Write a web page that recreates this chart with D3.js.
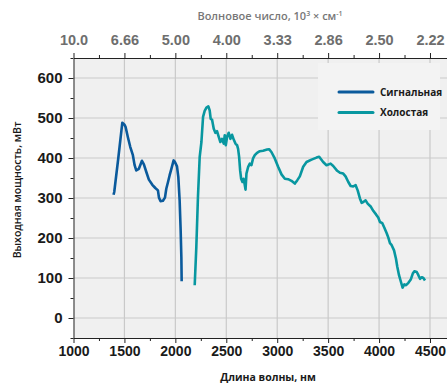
<!DOCTYPE html>
<html>
<head>
<meta charset="utf-8">
<script src="https://cdn.jsdelivr.net/npm/d3@7"></script>
<style>
body { margin: 0; background: #fff; }
svg { display: block; font-family: "Open Sans", "Noto Sans", sans-serif; }
</style>
</head>
<body>
<div id="chart"></div>
<script>
var W = 447, H = 383;

// signal (Сигнальная) wave, nm / mW
var signalWl = [1393, 1400, 1440, 1479, 1501, 1511, 1534, 1557, 1583, 1600, 1616, 1642, 1672, 1691, 1715, 1740, 1774, 1803, 1829, 1839, 1855, 1878, 1898, 1911, 1928, 1944, 1961, 1983, 1996, 2016, 2029, 2042, 2052, 2059, 2062];
var signalPw = [308, 315, 400, 488, 483, 478, 452, 428, 407, 382, 369, 373, 393, 384, 365, 346, 333, 325, 319, 301, 292, 293, 301, 323, 340, 357, 373, 394, 390, 379, 353, 294, 219, 152, 92];

// idler (Холостая) wave
var idlerWl = [2190, 2206, 2222, 2239, 2256, 2272, 2288, 2305, 2324, 2337, 2347, 2360, 2377, 2393, 2409, 2426, 2442, 2458, 2475, 2485, 2495, 2508, 2524, 2541, 2557, 2573, 2590, 2606, 2616, 2626, 2636, 2646, 2659, 2669, 2679, 2689, 2698, 2715, 2731, 2747, 2763, 2780, 2802, 2829, 2861, 2901, 2920, 2943, 2976, 3009, 3042, 3075, 3107, 3140, 3173, 3196, 3222, 3255, 3288, 3337, 3386, 3412, 3451, 3484, 3524, 3550, 3589, 3616, 3648, 3671, 3698, 3721, 3747, 3770, 3790, 3812, 3829, 3845, 3868, 3888, 3920, 3943, 3970, 3992, 4009, 4032, 4051, 4075, 4091, 4107, 4124, 4147, 4166, 4179, 4196, 4215, 4231, 4248, 4265, 4288, 4311, 4331, 4347, 4370, 4386, 4402, 4419, 4435, 4451];
var idlerPw = [82, 178, 303, 403, 440, 503, 518, 526, 529, 519, 498, 496, 473, 463, 467, 453, 440, 448, 436, 457, 432, 453, 463, 448, 458, 446, 436, 432, 423, 403, 369, 348, 340, 348, 336, 321, 361, 378, 386, 382, 399, 407, 413, 417, 418, 421, 422, 415, 399, 378, 359, 348, 347, 343, 336, 344, 354, 378, 390, 396, 401, 403, 390, 382, 386, 380, 368, 363, 361, 354, 340, 330, 329, 332, 319, 299, 288, 290, 294, 286, 278, 268, 259, 251, 240, 237, 226, 212, 201, 187, 182, 169, 148, 128, 107, 90, 76, 84, 82, 88, 96, 111, 117, 115, 107, 98, 102, 100, 94];

var xTicks = [1000, 1500, 2000, 2500, 3000, 3500, 4000, 4500];
var xMinor = [1250, 1750, 2250, 2750, 3250, 3750, 4250];
var topLabels = ["10.0", "6.66", "5.00", "4.00", "3.33", "2.86", "2.50", "2.22"];
var yTicks = [0, 100, 200, 300, 400, 500, 600];
var yMinor = [-50, 50, 150, 250, 350, 450, 550, 650];

var series = ["Сигнальная", "Холостая"];
var colors = ["#0a5a9c", "#0897a0"];

var x = d3.scaleLinear().domain([1000, 4667]).range([73.5, 447]);
var y = d3.scaleLinear().domain([-50, 650]).range([338, 58]);

var svg = d3.select("#chart").append("svg").attr("width", W).attr("height", H);

// plot background
svg.append("rect")
    .attr("x", x(1000)).attr("y", y(650))
    .attr("width", x(4667) - x(1000)).attr("height", y(-50) - y(650))
    .attr("fill", "#f0f0f0");

// grid
svg.append("g").selectAll("line").data(yTicks).enter().append("line")
    .attr("x1", x(1000)).attr("x2", W)
    .attr("y1", function(d) { return y(d); }).attr("y2", function(d) { return y(d); })
    .attr("stroke", "#c9c9c9").attr("stroke-width", 1.2);
svg.append("g").selectAll("line").data(xTicks.slice(1)).enter().append("line")
    .attr("y1", y(650)).attr("y2", y(-50))
    .attr("x1", function(d) { return x(d); }).attr("x2", function(d) { return x(d); })
    .attr("stroke", "#c9c9c9").attr("stroke-width", 1.2);

// legend box sits over the grid
svg.append("rect")
    .attr("x", 318).attr("y", 63).attr("width", 122).attr("height", 67)
    .attr("fill", "#f3f3f3");

// axes
function styleAxis(g) {
    g.select(".domain").attr("stroke", "#222");
    g.selectAll(".tick line").attr("stroke", "#222");
}

var bottomAx = svg.append("g").attr("transform", "translate(0," + y(-50) + ")")
    .call(d3.axisBottom(x).tickValues(xTicks).tickSize(5).tickPadding(3).tickSizeOuter(0).tickFormat(d3.format("d")));
bottomAx.selectAll("text").attr("font-size", "14px").attr("font-weight", "bold").attr("fill", "#1a1a1a");
styleAxis(bottomAx);
svg.append("g").attr("transform", "translate(0," + y(-50) + ")")
    .call(d3.axisBottom(x).tickValues(xMinor).tickSize(3).tickFormat("").tickSizeOuter(0))
    .call(styleAxis).select(".domain").remove();

var topAx = svg.append("g").attr("transform", "translate(0," + y(650) + ")")
    .call(d3.axisTop(x).tickValues(xTicks).tickSize(5).tickPadding(8).tickSizeOuter(0)
        .tickFormat(function(d, i) { return topLabels[i]; }));
topAx.selectAll("text").attr("font-size", "14.5px").attr("font-weight", "600").attr("fill", "#6e6e6e");
styleAxis(topAx);
svg.append("g").attr("transform", "translate(0," + y(650) + ")")
    .call(d3.axisTop(x).tickValues(xMinor).tickSize(3).tickFormat("").tickSizeOuter(0))
    .call(styleAxis).select(".domain").remove();

var leftAx = svg.append("g").attr("transform", "translate(" + x(1000) + ",0)")
    .call(d3.axisLeft(y).tickValues(yTicks).tickSize(5).tickPadding(6).tickSizeOuter(0));
leftAx.selectAll("text").attr("font-size", "15px").attr("font-weight", "bold").attr("fill", "#1a1a1a");
styleAxis(leftAx);
svg.append("g").attr("transform", "translate(" + x(1000) + ",0)")
    .call(d3.axisLeft(y).tickValues(yMinor).tickSize(3).tickFormat("").tickSizeOuter(0))
    .call(styleAxis).select(".domain").remove();

// titles
svg.append("text").attr("x", 268).attr("y", 381).attr("text-anchor", "middle")
    .attr("font-size", "10.5px").attr("font-weight", "bold").attr("fill", "#1a1a1a")
    .text("Длина волны, нм");

var tt = svg.append("text").attr("x", 270).attr("y", 20).attr("text-anchor", "middle")
    .attr("font-size", "11px").attr("font-weight", "600").attr("fill", "#777");
tt.append("tspan").text("Волновое число, 10");
tt.append("tspan").attr("font-size", "7px").attr("dy", -4).text("3");
tt.append("tspan").attr("dy", 4).text(" × см");
tt.append("tspan").attr("font-size", "7px").attr("dy", -4).text("-1");

svg.append("text").attr("transform", "translate(21,190)rotate(-90)").attr("text-anchor", "middle")
    .attr("font-size", "10.5px").attr("font-weight", "600").attr("fill", "#1a1a1a")
    .text("Выходная мощность, мВт");

// curves
var line = d3.line()
    .x(function(d) { return x(d[0]); })
    .y(function(d) { return y(d[1]); });

var curves = [d3.zip(signalWl, signalPw), d3.zip(idlerWl, idlerPw)];
svg.append("g").selectAll("path").data(curves).enter().append("path")
    .attr("d", line)
    .attr("fill", "none")
    .attr("stroke", function(d, i) { return colors[i]; })
    .attr("stroke-width", 2.6)
    .attr("stroke-linejoin", "round");

// legend
var leg = svg.append("g").selectAll("g").data(series).enter().append("g")
    .attr("transform", function(d, i) { return "translate(339," + (92 + i * 20.5) + ")"; });
leg.append("line").attr("x1", 0).attr("x2", 34)
    .attr("stroke", function(d, i) { return colors[i]; })
    .attr("stroke-width", 3).attr("stroke-linecap", "round");
leg.append("text").attr("x", 41).attr("y", 3.5)
    .attr("font-size", "10px").attr("font-weight", "bold").attr("fill", "#1a1a1a")
    .text(function(d) { return d; });
</script>
</body>
</html>
